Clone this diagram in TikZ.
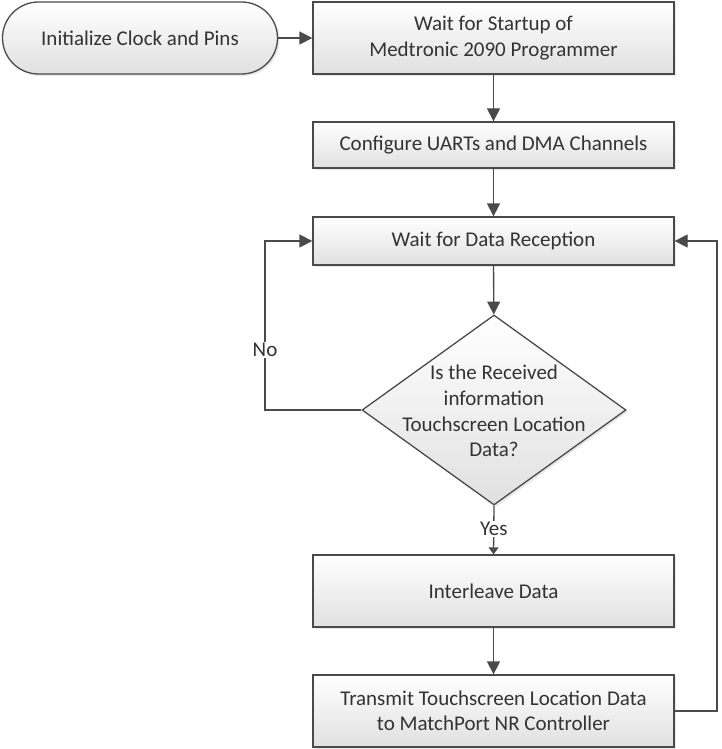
\documentclass[tikz,border=0pt]{standalone}
\usepackage{fontspec}
\setmainfont{Carlito}
\usetikzlibrary{arrows.meta,shapes.geometric,shadows}
\definecolor{lc}{HTML}{4A4A4A}
\definecolor{tc}{HTML}{333333}
\tikzset{
  base/.style={draw=lc, line width=1.3pt, top color=white, bottom color=black!12,
    text=tc, align=center, inner sep=0pt, font=\fontsize{21}{25.5}\selectfont,
    drop shadow={opacity=0.18, shadow xshift=2pt, shadow yshift=-2pt}},
  procbox/.style={base, rectangle, minimum width=361pt},
  termbox/.style={base, rectangle, rounded corners=36pt, minimum width=275pt, minimum height=72pt},
  decbox/.style={base, diamond, minimum width=264pt, minimum height=190pt},
  flow/.style={draw=lc, line width=1.3pt, -{Triangle[length=13pt,width=13pt]}},
  lbl/.style={fill=white, text=tc, inner sep=1.5pt, font=\fontsize{21}{24}\selectfont}
}
\begin{document}
\begin{tikzpicture}[x=1pt,y=-1pt]
\useasboundingbox (0,0) rectangle (722,749);
\node[termbox] (t) at (140,38) {Initialize Clock and Pins};
\node[procbox, minimum height=72pt] (b1) at (493.5,38) {Wait for Startup of\\Medtronic 2090 Programmer};
\node[procbox, minimum height=46pt] (b2) at (493.5,145) {Configure UARTs and DMA Channels};
\node[procbox, minimum height=48pt] (b3) at (493.5,241) {Wait for Data Reception};
\node[decbox] (d) at (494,410) {};
\node[text=tc, align=center, font=\fontsize{21}{25.8}\selectfont] (dt) at (494,411) {Is the Received\\information\\Touchscreen Location\\Data?};
\node[procbox, minimum height=72pt] (b4) at (493.5,591) {Interleave Data};
\node[procbox, minimum height=72pt] (b5) at (493.5,711) {Transmit Touchscreen Location Data\\to MatchPort NR Controller};
\coordinate (nl) at (265,410);
\coordinate (nu) at (265,241);
\coordinate (rl) at (717,711);
\coordinate (ru) at (717,241);
\draw[flow] (t) -- (b1);
\draw[flow] (b1) -- (b2);
\draw[flow] (b2) -- (b3);
\draw[flow] (b3) -- (d);
\draw[draw=lc, line width=1.3pt, -{Triangle[length=7pt,width=10pt]}] (d.south) -- node[lbl, pos=0.48] {Yes} (b4.north);
\draw[flow] (b4) -- (b5);
\draw[flow] (d.west) -- (nl) -- node[lbl, pos=0.355] {No} (nu) -- (b3.west);
\draw[flow] (b5.east) -- (rl) -- (ru) -- (b3.east);
\end{tikzpicture}
\end{document}
